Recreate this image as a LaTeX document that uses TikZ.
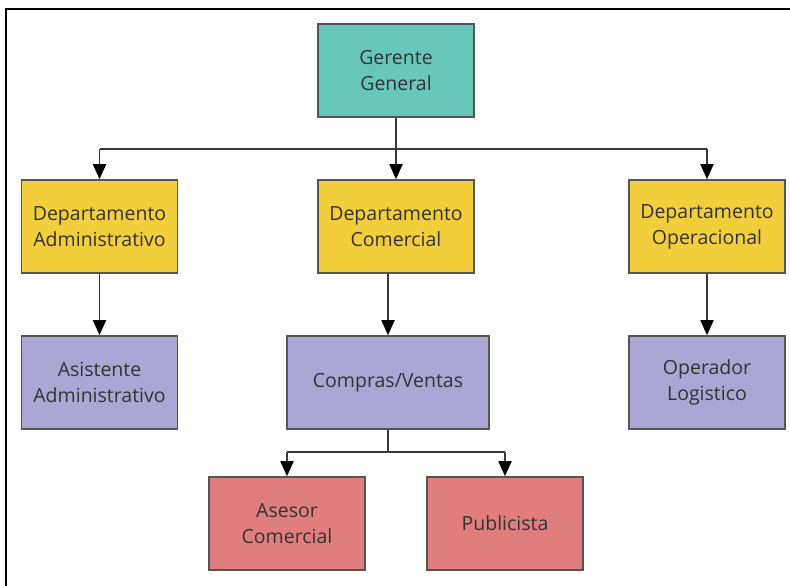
\documentclass[tikz,border=0pt]{standalone}
\usepackage{fontspec}
\setmainfont{Open Sans}
\usetikzlibrary{arrows.meta}
\definecolor{cteal}{HTML}{66C7BA}
\definecolor{cyellow}{HTML}{F2CD3C}
\definecolor{cpurple}{HTML}{ACA6D4}
\definecolor{cred}{HTML}{E07E7E}
\definecolor{cborder}{HTML}{555555}
\definecolor{ctext}{HTML}{333333}
\definecolor{cline}{HTML}{3A3A3A}
\tikzset{
  box/.style={draw=cborder, line width=1.6pt, inner sep=0pt, align=center,
    text=ctext, font=\fontsize{19.5}{26}\selectfont},
  boxs/.style={box, minimum width=156pt, minimum height=93pt},
  boxw/.style={box, minimum width=202pt, minimum height=93pt},
  conn/.style={draw=cline, line width=1.8pt},
  arr/.style={conn, -{Triangle[width=13pt,length=15pt,color=black]}},
}
\begin{document}
\begin{tikzpicture}[x=1pt,y=-1pt]
\useasboundingbox (0,0) rectangle (790,586);
\fill[white] (0,0) rectangle (790,586);
% frame (top and left)
\draw[black, line width=2pt] (6,586) -- (6,9) -- (790,9);
% nodes
\node[boxs, fill=cteal] (g) at (396,70.5) {Gerente\\General};
\node[boxs, fill=cyellow] (da) at (99.5,226.5) {Departamento\\Administrativo};
\node[boxs, fill=cyellow] (dc) at (396,226.5) {Departamento\\Comercial};
\node[boxs, fill=cyellow] (do) at (707,226.5) {Departamento\\Operacional};
\node[boxs, fill=cpurple] (aa) at (99.5,382.5) {Asistente\\Administrativo};
\node[boxw, fill=cpurple] (cv) at (388,382.5) {Compras/Ventas};
\node[boxs, fill=cpurple] (ol) at (707,382.5) {Operador\\Logistico};
\node[boxs, fill=cred] (ac) at (287,523.5) {Asesor\\Comercial};
\node[boxs, fill=cred] (pu) at (505,523.5) {Publicista};
% buses
\coordinate (bus1) at (396,149);
\coordinate (bus2) at (388,452);
% connectors
\draw[conn] (g.south) -- (bus1);
\draw[arr] (bus1 -| da.north) -- (da.north);
\draw[arr] (bus1) -- (dc.north);
\draw[arr] (bus1 -| do.north) -- (do.north);
\draw[conn] (bus1 -| da.north) -- (bus1 -| do.north);
\draw[arr] (da.south) -- (aa.north);
\draw[arr] (dc.south -| cv.north) -- (cv.north);
\draw[arr] (do.south) -- (ol.north);
\draw[conn] (cv.south) -- (bus2);
\draw[conn] (bus2 -| ac.north) -- (bus2 -| pu.north);
\draw[arr] (bus2 -| ac.north) -- (ac.north);
\draw[arr] (bus2 -| pu.north) -- (pu.north);
\end{tikzpicture}
\end{document}
